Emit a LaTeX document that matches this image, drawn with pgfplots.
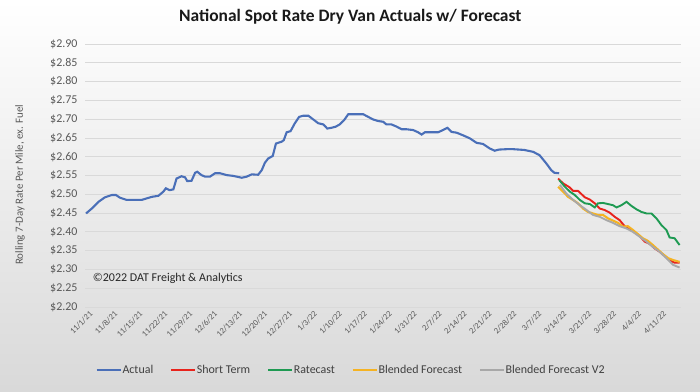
\documentclass[border=0pt]{standalone}
\usepackage{fontspec}
\setmainfont{Carlito}
\usepackage{pgfplots}
\pgfplotsset{compat=1.18}
\definecolor{cActual}{HTML}{4A6FB8}
\definecolor{cShort}{HTML}{E8231C}
\definecolor{cRate}{HTML}{1E9A52}
\definecolor{cBlend}{HTML}{F5B323}
\definecolor{cV2}{HTML}{A8A8A8}
\definecolor{cGrid}{HTML}{D9D9D9}
\definecolor{cTick}{HTML}{595959}
\begin{document}
\begin{tikzpicture}
\fill[top color=white, middle color=white!96!black, bottom color=black!15] (0,0) rectangle (700bp,392bp);
\begin{axis}[
  at={(85bp,85bp)}, anchor=south west,
  scale only axis, width=596bp, height=263bp,
  xmin=-0.3, xmax=167, ymin=2.20, ymax=2.90,
  axis line style={draw=none},
  axis x line*=bottom,
  tick style={draw=none},
  ymajorgrids, grid style={cGrid, line width=0.8pt},
  ytick={2.20,2.25,...,2.91},
  /pgf/number format/assume math mode=true,
  yticklabel={\$\pgfmathprintnumber[fixed,fixed zerofill,precision=2]{\tick}},
  yticklabel style={font=\fontsize{12}{14}\selectfont, text=cTick, xshift=-4bp},
  xtick={0,7,...,161},
  xticklabels={11/1/21,11/8/21,11/15/21,11/22/21,11/29/21,12/6/21,12/13/21,12/20/21,12/27/21,1/3/22,1/10/22,1/17/22,1/24/22,1/31/22,2/7/22,2/14/22,2/21/22,2/28/22,3/7/22,3/14/22,3/21/22,3/28/22,4/4/22,4/11/22},
  xticklabel style={font=\fontsize{8.5}{10}\selectfont, text=cTick, rotate=45, anchor=north east, xshift=3bp, yshift=-1bp},
  ylabel={Rolling 7-Day Rate Per Mile, ex. Fuel},
  ylabel style={font=\fontsize{11}{13}\selectfont, text=cTick, at={(axis description cs:-0.109,0.465)}, anchor=center, rotate=0},
  title={\textbf{National Spot Rate Dry Van Actuals w/ Forecast}},
  title style={font=\fontsize{17.5}{20}\selectfont, at={(axis description cs:0.445,1)}, anchor=center, yshift=21bp, text=black!90},
  legend columns=-1,
  legend style={at={(axis description cs:0.446,0)}, anchor=center, yshift=-63bp, draw=none, fill=none,
    font=\fontsize{12}{14}\selectfont, text=black!75,
    /tikz/every even column/.append style={column sep=16bp},
    inner sep=0pt, nodes={inner sep=1pt}},
  legend image code/.code={\draw[#1, line width=1.6pt] (0bp,0bp) -- (24bp,0bp);},
  clip=false,
]
\addplot[cActual, line width=2.1pt] coordinates {
(0,2.449) (1.6,2.462) (3.5,2.480) (5.3,2.492) (7.2,2.498) (8.4,2.498) (9.5,2.491) (11.4,2.485) (13.3,2.485) (15.6,2.485) (17,2.489) (18.4,2.493) (20.3,2.496) (21.7,2.507) (22.4,2.516) (23.4,2.511) (24.5,2.513) (25.4,2.542) (26.8,2.548) (27.8,2.545) (28.4,2.535) (29.6,2.536) (30.6,2.557) (31.2,2.560) (32.4,2.551) (33.4,2.547) (34.8,2.547) (36.2,2.556) (37.6,2.556) (39.5,2.551) (41.3,2.549) (43.7,2.544) (45.1,2.547) (46.5,2.553) (48.3,2.552) (49.3,2.564) (50.2,2.584) (51.1,2.595) (52.4,2.602) (53.3,2.635) (54.9,2.640) (55.5,2.644) (56.3,2.665) (57.4,2.668) (58.6,2.689) (59.8,2.706) (60.9,2.709) (62.4,2.709) (63.8,2.699) (65.2,2.689) (66.6,2.686) (67.7,2.675) (68.9,2.677) (70.1,2.680) (71.2,2.686) (72.4,2.697) (73.6,2.713) (75.9,2.713) (77.8,2.713) (79.2,2.706) (80.6,2.699) (82,2.695) (83.4,2.693) (84.3,2.686) (85.7,2.686) (87.2,2.680) (88.6,2.673) (90,2.673) (91.8,2.671) (93.2,2.665) (94.2,2.659) (95.1,2.665) (97,2.665) (98.8,2.665) (100.2,2.671) (101.4,2.677) (102.6,2.666) (104,2.664) (105.8,2.657) (107.7,2.649) (109.6,2.637) (111.4,2.634) (113.3,2.622) (114.7,2.616) (115.9,2.619) (118,2.620) (120,2.620) (123,2.618) (125.5,2.613) (127.3,2.604) (129.2,2.582) (130.6,2.564) (131.5,2.557) (132.8,2.556)
};
\addlegendentry{Actual}
\addplot[cShort, line width=1.9pt] coordinates {
(132.5,2.542) (133.9,2.529) (134.8,2.524) (135.8,2.518) (136.7,2.509) (138.1,2.509) (139,2.501) (140,2.492) (141.4,2.486) (142.8,2.476) (144.2,2.462) (145.6,2.458) (147,2.451) (148.4,2.440) (149.8,2.431) (151.2,2.415) (152.6,2.409) (154,2.398) (155.4,2.389) (156.8,2.374) (158.2,2.368) (159.6,2.356) (161,2.347) (162.4,2.336) (163.8,2.324) (165.2,2.318) (166.6,2.318)
};
\addlegendentry{Short Term}
\addplot[cRate, line width=1.9pt] coordinates {
(132.8,2.538) (134.4,2.520) (135.8,2.507) (137.2,2.498) (138.6,2.485) (140,2.476) (141.4,2.474) (142.8,2.465) (143.7,2.476) (145.1,2.477) (146.5,2.474) (147.9,2.471) (148.9,2.465) (150.3,2.471) (151.7,2.480) (153.1,2.469) (154.5,2.460) (155.9,2.453) (157.3,2.449) (158.7,2.449) (160.1,2.436) (161.5,2.418) (162.9,2.405) (163.8,2.385) (165.2,2.383) (166.6,2.365)
};
\addlegendentry{Ratecast}
\addplot[cBlend, line width=2.1pt] coordinates {
(132.5,2.520) (133.9,2.507) (135.3,2.493) (136.7,2.485) (138.1,2.476) (139.5,2.462) (140.9,2.453) (142.3,2.449) (143.7,2.445) (145.1,2.445) (146.5,2.436) (147.9,2.430) (149.3,2.424) (150.7,2.414) (152.1,2.415) (153.5,2.405) (154.9,2.394) (156.3,2.383) (157.7,2.376) (159.1,2.365) (160.5,2.353) (161.9,2.341) (163.4,2.330) (164.8,2.325) (166.6,2.320)
};
\addlegendentry{Blended Forecast}
\addplot[cV2, line width=1.9pt] coordinates {
(133,2.525) (134.8,2.502) (136.7,2.485) (138.6,2.471) (140.5,2.458) (142.3,2.445) (144.2,2.440) (146.1,2.431) (147.9,2.424) (149.8,2.415) (151.7,2.409) (153.5,2.400) (155.4,2.387) (157.3,2.374) (159.1,2.360) (161,2.347) (162.9,2.330) (164.8,2.312) (166.6,2.305)
};
\addlegendentry{Blended Forecast V2}
\node[anchor=west, font=\fontsize{12}{14}\selectfont, text=black!85, inner sep=0pt] at (axis description cs:0.013,0.11) {©2022 DAT Freight \& Analytics};
\end{axis}
\pgfresetboundingbox
\path (0,0) rectangle (700bp,392bp);
\end{tikzpicture}
\end{document}
